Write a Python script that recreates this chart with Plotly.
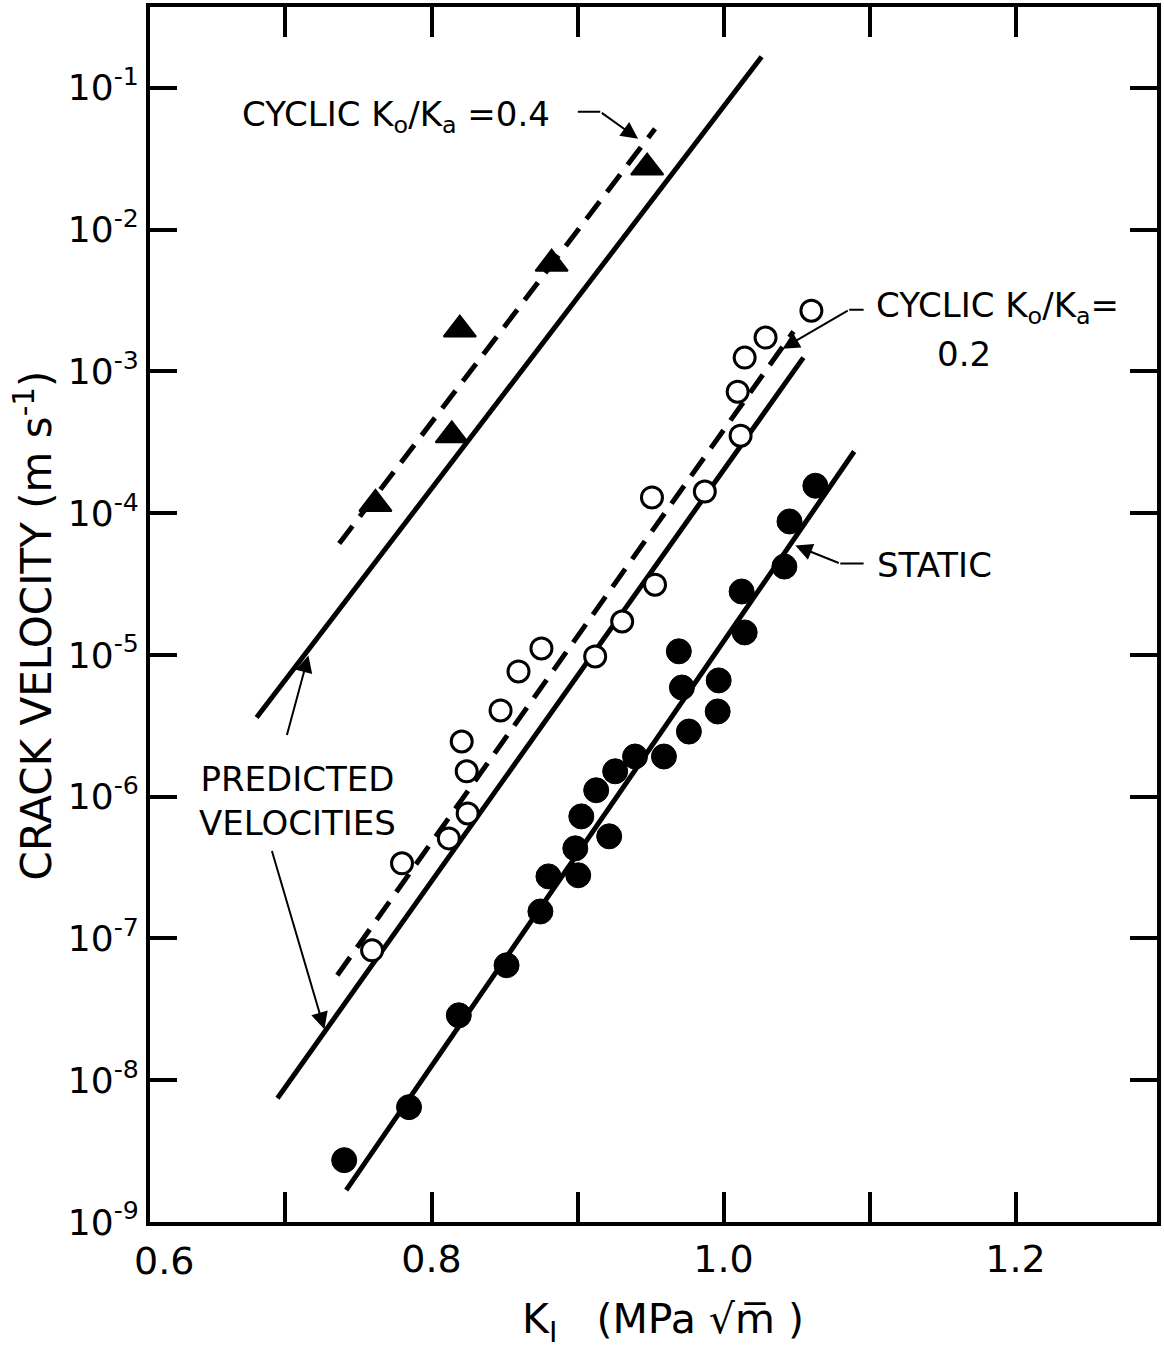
import plotly.graph_objects as go

# ---------------- data ----------------
# Cyclic Ko/Ka = 0.4 (filled triangles)
k_cyc04 = [0.9477, 0.8823, 0.8194, 0.8139, 0.7616]
v_cyc04 = [2.74e-2, 5.74e-3, 1.97e-3, 3.54e-4, 1.16e-4]

# Cyclic Ko/Ka = 0.2 (open circles)
k_cyc02 = [1.0602, 1.0288, 1.0145, 1.0097, 1.0117, 0.9872, 0.9510, 0.9531, 0.9306,
           0.9121, 0.8753, 0.8596, 0.8473, 0.8207, 0.8241, 0.8248, 0.8119, 0.7798, 0.7593]
v_cyc02 = [2.68e-3, 1.73e-3, 1.25e-3, 7.19e-4, 3.52e-4, 1.42e-4, 1.29e-4, 3.13e-5, 1.72e-5,
           9.75e-6, 1.11e-5, 7.64e-6, 4.06e-6, 2.45e-6, 1.51e-6, 7.62e-7, 5.08e-7, 3.39e-7, 8.24e-8]

# Static (filled circles)
k_static = [0.7402, 0.7846, 0.8187, 0.8514, 0.8746, 0.8801, 0.9005, 0.8985, 0.9026, 0.9217,
            0.9128, 0.9258, 0.9394, 0.9592, 0.9763, 0.9694, 0.9715, 0.9967, 0.9960, 1.0124,
            1.0145, 1.0417, 1.0452, 1.0629]
v_static = [2.73e-9, 6.46e-9, 2.87e-8, 6.47e-8, 1.55e-7, 2.74e-7, 2.79e-7, 4.32e-7, 7.26e-7, 5.25e-7,
            1.11e-6, 1.51e-6, 1.92e-6, 1.92e-6, 2.88e-6, 1.06e-5, 5.89e-6, 6.61e-6, 3.99e-6, 2.80e-5,
            1.44e-5, 4.20e-5, 8.73e-5, 1.56e-4]

# Lines (end points)
k_static_line = [0.7416, 1.0895]
v_static_line = [1.68e-9, 2.72e-4]
k_pred02 = [0.6945, 1.0547]
v_pred02 = [7.46e-9, 1.25e-3]
k_fit02 = [0.7355, 1.0479]
v_fit02 = [5.50e-8, 1.91e-3]
k_pred04 = [0.6802, 1.0261]
v_pred04 = [3.62e-6, 1.654e-1]
k_fit04 = [0.7368, 0.9531]
v_fit04 = [6.10e-5, 5.14e-2]

# Axis ticks
x_tickvals = [0.7, 0.8, 0.9, 1.0, 1.1, 1.2]
x_ticktext = ["", "0.8", "", "1.0", "", "1.2"]
y_tickvals = [1e-9, 1e-8, 1e-7, 1e-6, 1e-5, 1e-4, 1e-3, 1e-2, 1e-1]
y_ticktext = ["10<sup>-%d</sup>" % n for n in range(9, 0, -1)]

FONT = "DejaVu Sans"
BLACK = "black"

fig = go.Figure()

line_specs = [
    (k_pred04, v_pred04, "solid"),
    (k_fit04, v_fit04, "22px,12px"),
    (k_pred02, v_pred02, "solid"),
    (k_fit02, v_fit02, "22px,12px"),
    (k_static_line, v_static_line, "solid"),
]
for kx, vy, dash in line_specs:
    fig.add_trace(go.Scatter(x=kx, y=vy, mode="lines",
                             line=dict(color=BLACK, width=5, dash=dash),
                             hoverinfo="skip", showlegend=False))

fig.add_trace(go.Scatter(x=k_cyc04, y=v_cyc04, mode="markers", showlegend=False,
                         marker=dict(symbol="triangle-up", size=28, color=BLACK,
                                     line=dict(color=BLACK, width=2))))
fig.add_trace(go.Scatter(x=k_cyc02, y=v_cyc02, mode="markers", showlegend=False,
                         marker=dict(symbol="circle", size=21, color="white",
                                     line=dict(color=BLACK, width=3))))
fig.add_trace(go.Scatter(x=k_static, y=v_static, mode="markers", showlegend=False,
                         marker=dict(symbol="circle", size=25, color=BLACK,
                                     line=dict(color=BLACK, width=1))))

# ---------------- text labels ----------------
labels = [
    ("CYCLIC K<sub>o</sub>/K<sub>a</sub> =0.4", 0.6686, -1.205, "left"),
    ("PREDICTED<br>VELOCITIES", 0.7082, -6.033, "center"),
    ("CYCLIC K<sub>o</sub>/K<sub>a</sub>=", 1.1031, -2.551, "left"),
    ("0.2", 1.1645, -2.875, "center"),
    ("STATIC", 1.1038, -4.363, "left"),
]
for txt, lx, ly, anc in labels:
    fig.add_annotation(text=txt, x=lx, y=ly, xref="x", yref="y", xanchor=anc,
                       yanchor="middle", showarrow=False, align="center",
                       font=dict(family=FONT, size=34, color=BLACK))

# ---------------- leader lines / arrows ----------------
arrows = [
    # (head_x, head_log_y, tail_x, tail_log_y, arrowhead)
    (0.9156, -1.169, 0.8992, -1.169, 0),
    (0.9415, -1.360, 0.9156, -1.169, 2),
    (0.7157, -5.004, 0.7007, -5.575, 2),
    (0.7266, -7.640, 0.6904, -6.372, 2),
    (1.0861, -2.565, 1.0970, -2.565, 0),
    (1.0404, -2.840, 1.0861, -2.565, 2),
    (1.0800, -4.356, 1.0970, -4.356, 0),
    (1.0492, -4.229, 1.0800, -4.356, 2),
]
for hx, hy, tx, ty, head in arrows:
    fig.add_annotation(text="", x=hx, y=hy, ax=tx, ay=ty, xref="x", yref="y",
                       axref="x", ayref="y", showarrow=True, arrowhead=head,
                       arrowsize=1.7, arrowwidth=2, arrowcolor=BLACK)

# 0.6 label at the lower-left corner
fig.add_annotation(text="0.6", x=0.6168, y=0, xref="x", yref="paper", xanchor="center",
                   yanchor="middle", yshift=-39, showarrow=False,
                   font=dict(family=FONT, size=38, color=BLACK))

# axis titles
fig.add_annotation(text="CRACK VELOCITY (m s<sup>-1</sup>)", x=0, y=0.491, xref="paper",
                   yref="paper", xshift=-116, textangle=-90, showarrow=False,
                   xanchor="center", yanchor="middle",
                   font=dict(family=FONT, size=42, color=BLACK))
fig.add_annotation(text="K<sub>I</sub>   (MPa \u221am\u0305 )", x=0.509, y=0, xref="paper",
                   yref="paper", yshift=-100, showarrow=False, xanchor="center",
                   yanchor="middle", font=dict(family=FONT, size=41, color=BLACK))

fig.update_xaxes(range=[0.6072, 1.2969], tickvals=x_tickvals, ticktext=x_ticktext,
                 ticks="inside", ticklen=30, tickwidth=4, tickcolor=BLACK,
                 showline=True, linewidth=4, linecolor=BLACK, mirror="allticks",
                 showgrid=False, zeroline=False,
                 tickfont=dict(family=FONT, size=38, color=BLACK))
fig.update_yaxes(type="log", range=[-9, -0.43], tickvals=y_tickvals, ticktext=y_ticktext,
                 ticks="inside", ticklen=27, tickwidth=4, tickcolor=BLACK,
                 showline=True, linewidth=4, linecolor=BLACK, mirror="allticks",
                 showgrid=False, zeroline=False,
                 tickfont=dict(family=FONT, size=36, color=BLACK))

fig.update_layout(width=1164, height=1366, margin=dict(l=150, r=3, t=7, b=144),
                  plot_bgcolor="white", paper_bgcolor="white",
                  font=dict(family=FONT, color=BLACK), showlegend=False)

fig.write_html("out.html")
